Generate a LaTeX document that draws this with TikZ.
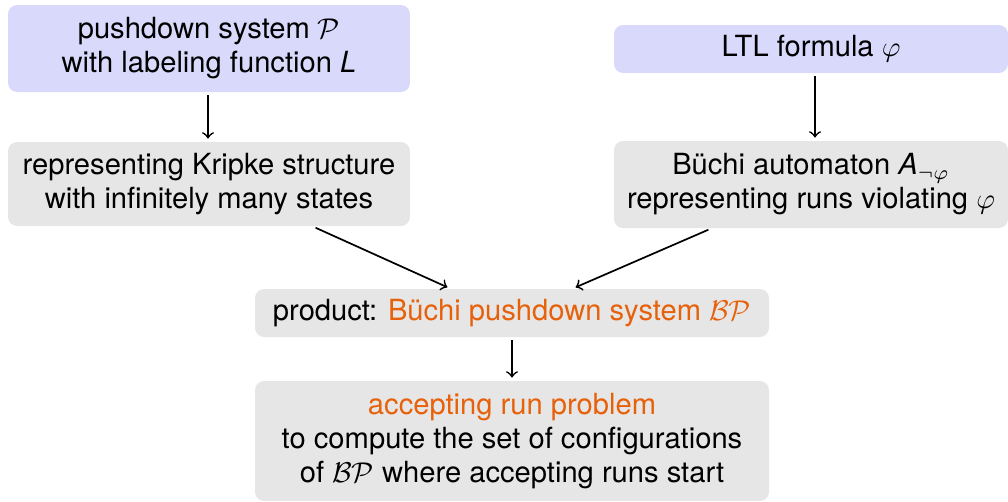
\documentclass[tikz,border=0pt]{standalone}
\usepackage{fontspec}
\setmainfont{TeX Gyre Heros}
\usetikzlibrary{calc}
\definecolor{boxblue}{RGB}{217,217,252}
\definecolor{boxgray}{RGB}{230,230,230}
\definecolor{hiorange}{RGB}{230,97,10}
\tikzset{
  box/.style={rounded corners=3.2pt, inner sep=0pt, align=center, font=\fontsize{10.2}{11.9}\selectfont},
  bluebox/.style={box, fill=boxblue},
  graybox/.style={box, fill=boxgray},
  arr/.style={->, line width=0.6pt, shorten >=1pt, shorten <=1pt},
}
\begin{document}
\begin{tikzpicture}[x=0.35pt,y=-0.35pt]
\useasboundingbox (0,0) rectangle (1008,501);
\node[bluebox, minimum width=140.7pt, minimum height=30.45pt] (b1) at (209,48.5)
  {pushdown system $\mathcal{P}$\\with labeling function \textit{L}};
\node[graybox, minimum width=140.7pt, minimum height=29.4pt] (b2) at (209,184)
  {representing Kripke structure\\with infinitely many states};
\node[bluebox, minimum width=137.9pt, minimum height=16.8pt] (b3) at (811,49)
  {LTL formula $\varphi$};
\node[graybox, minimum width=137.9pt, minimum height=30.45pt] (b4) at (811,184.5)
  {Büchi automaton $\textit{A}_{\neg\varphi}$\\representing runs violating $\varphi$};
\node[graybox, minimum width=179.9pt, minimum height=16.8pt] (b5) at (512,313)
  {product: \textcolor{hiorange}{Büchi pushdown system $\mathcal{BP}$}};
\node[graybox, minimum width=179.9pt, minimum height=42pt] (b6) at (512,441)
  {\textcolor{hiorange}{accepting run problem}\\to compute the set of configurations\\of $\mathcal{BP}$ where accepting runs start};
\draw[arr] ([xshift=-0.35pt]b1.south) -- ([xshift=-0.35pt]b2.north);
\draw[arr] ([xshift=1.4pt]b3.south) -- ([xshift=1.4pt]b4.north);
\draw[arr] ($(b2.south)+(104,0)$) -- ($(b5.north)+(-62,0)$);
\draw[arr] ($(b4.south)+(-100,0)$) -- ($(b5.north)+(61,0)$);
\draw[arr] (b5.south) -- (b6.north);
\end{tikzpicture}
\end{document}
